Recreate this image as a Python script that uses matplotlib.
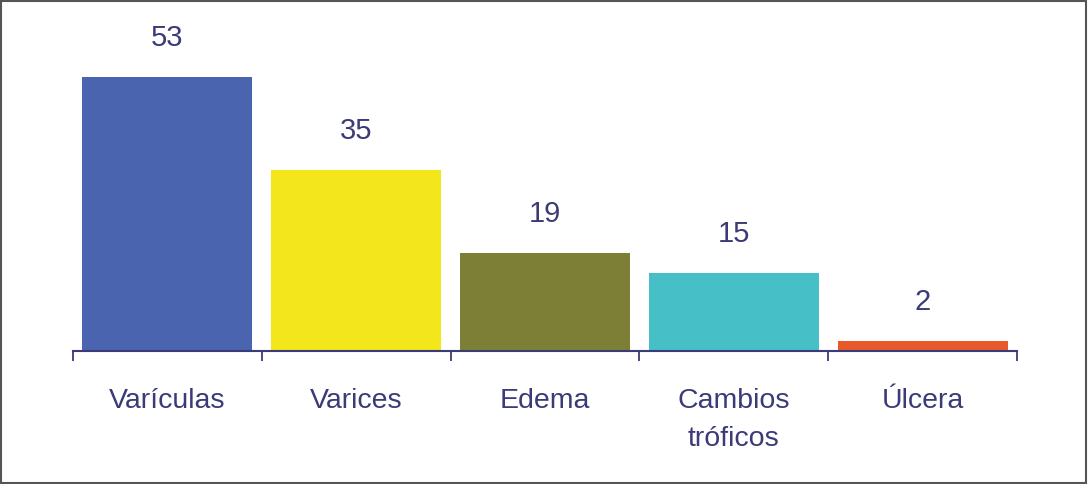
import matplotlib.pyplot as plt
from matplotlib.patches import Rectangle

categorias = ['Varículas', 'Varices', 'Edema', 'Cambios\ntróficos', 'Úlcera']
valores = [53, 35, 19, 15, 2]
colores = ['#4a64b0', '#f3e71c', '#7e7f36', '#46c0c6', '#e8592a']
texto = '#3b3b78'

plt.rcParams['font.family'] = ['Liberation Sans', 'DejaVu Sans']

fig = plt.figure(figsize=(10.88, 4.84), dpi=100)
ax = fig.add_axes([73 / 1088, 133 / 484, 944 / 1088, 331 / 484])

x = range(len(categorias))
barras = ax.bar(x, valores, width=0.9, color=colores)
for b, v in zip(barras, valores):
    ax.annotate(str(v), (b.get_x() + b.get_width() / 2, v),
                xytext=(0, 18), textcoords='offset points',
                ha='center', va='bottom', fontsize=21, color=texto)

ax.set_xlim(-0.5, len(categorias) - 0.5)
ax.set_ylim(0, 64)
ax.set_xticks(list(x))
ax.set_xticklabels(categorias, fontsize=20.5, color=texto, linespacing=1.55,
                   va='top')
ax.tick_params(axis='x', which='major', length=0, pad=27)
ax.set_xticks([i - 0.5 for i in range(len(categorias) + 1)], minor=True)
ax.tick_params(axis='x', which='minor', length=7, width=1.3, color=texto,
               direction='out')
ax.set_yticks([])
for s in ['left', 'right', 'top']:
    ax.spines[s].set_visible(False)
ax.spines['bottom'].set_color(texto)
ax.spines['bottom'].set_linewidth(1.5)

fig.patches.append(Rectangle((0.001, 0.002), 0.997, 0.995, transform=fig.transFigure,
                             fill=False, edgecolor='#555555', linewidth=1.5))

fig.savefig('out.png', dpi=100)
